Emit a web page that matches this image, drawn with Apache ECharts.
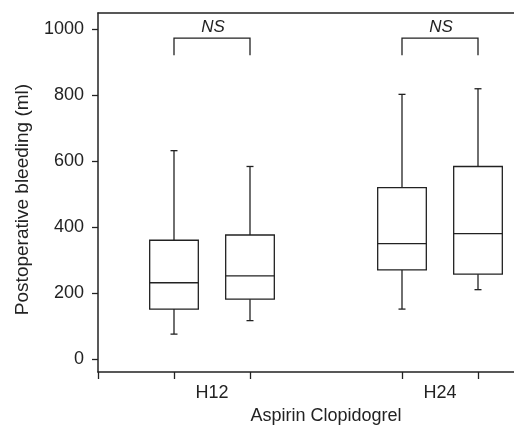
<!DOCTYPE html>
<html>
<head>
<meta charset="utf-8">
<script src="https://cdn.jsdelivr.net/npm/echarts@6/dist/echarts.min.js"></script>
<style>
  html, body { margin: 0; padding: 0; background: #fff; }
  #chart { width: 514px; height: 433px; }
</style>
</head>
<body>
<div id="chart"></div>
<script>
// Time points and treatment arms
const groups = ['H12', 'H24'];
const treatments = ['Aspirin', 'Clopidogrel'];

// Box statistics per time point: [min, Q1, median, Q3, max] in ml
const aspirin = [
  [75, 151, 231, 360, 632],
  [151, 270, 350, 520, 803]
];
const clopidogrel = [
  [116, 181, 252, 376, 584],
  [210, 257, 380, 584, 820]
];

// Significance brackets: [group index, label]
const significance = [
  [0, 'NS'],
  [1, 'NS']
];
const bracketTop = 974;
const bracketFoot = 922;

// y-axis tick values
const yTicks = [0, 200, 400, 600, 800, 1000];

const INK = '#222';
const FONT = 'Liberation Sans, Arial, Helvetica, sans-serif';

// Slot on the x scale: groups three slots apart, arms side by side
function slot(g, t) { return g * 3 + t; }

const boxData = [];
[aspirin, clopidogrel].forEach(function (arm, t) {
  arm.forEach(function (s, g) {
    boxData.push([slot(g, t)].concat(s));
  });
});

const bracketData = significance.map(function (b) {
  return [slot(b[0], 0), slot(b[0], 1), bracketTop, bracketFoot, b[1]];
});

const tickSlots = [-1];
groups.forEach(function (g, i) {
  treatments.forEach(function (t, j) { tickSlots.push(slot(i, j)); });
});
const labelSlots = groups.map(function (g, i) { return slot(i, 0) + 0.5; });

const chart = echarts.init(document.getElementById('chart'), null, { renderer: 'canvas' });

function renderBox(params, api) {
  const x = api.value(0);
  const halfW = 0.32;
  const lo = api.coord([x, api.value(1)]);
  const q1 = api.coord([x, api.value(2)]);
  const med = api.coord([x, api.value(3)]);
  const q3 = api.coord([x, api.value(4)]);
  const hi = api.coord([x, api.value(5)]);
  const left = api.coord([x - halfW, 0])[0];
  const right = api.coord([x + halfW, 0])[0];
  const cx = lo[0];
  const cap = 3.5;
  const style = { stroke: INK, lineWidth: 1.3, fill: null };
  return {
    type: 'group',
    children: [
      { type: 'rect', shape: { x: left, y: q3[1], width: right - left, height: q1[1] - q3[1] },
        style: { stroke: INK, lineWidth: 1.3, fill: '#fff' } },
      { type: 'line', shape: { x1: left, y1: med[1], x2: right, y2: med[1] }, style: style },
      { type: 'line', shape: { x1: cx, y1: q3[1], x2: cx, y2: hi[1] }, style: style },
      { type: 'line', shape: { x1: cx, y1: q1[1], x2: cx, y2: lo[1] }, style: style },
      { type: 'line', shape: { x1: cx - cap, y1: hi[1], x2: cx + cap, y2: hi[1] }, style: style },
      { type: 'line', shape: { x1: cx - cap, y1: lo[1], x2: cx + cap, y2: lo[1] }, style: style }
    ]
  };
}

function renderBracket(params, api) {
  const a = api.coord([api.value(0), api.value(2)]);
  const b = api.coord([api.value(1), api.value(2)]);
  const foot = api.coord([api.value(0), api.value(3)])[1];
  const style = { stroke: INK, lineWidth: 1.3, fill: null };
  return {
    type: 'group',
    children: [
      { type: 'polyline', shape: { points: [[a[0], foot], a, b, [b[0], foot]] }, style: style },
      { type: 'text', x: (a[0] + b[0]) / 2 + 1, y: a[1] - 2,
        style: { text: api.value(4), fill: INK, font: 'italic 17px ' + FONT,
                 align: 'center', verticalAlign: 'bottom' } }
    ]
  };
}

const option = {
  animation: false,
  backgroundColor: '#fff',
  textStyle: { fontFamily: FONT },
  // plot area runs past the right edge of the canvas; x = 2 sits mid-way
  grid: { left: 98, top: 13, width: 456, height: 359, containLabel: false, outerBoundsMode: 'none' },
  xAxis: [
    {
      type: 'value', min: -1, max: 5, position: 'bottom',
      name: treatments.join(' '), nameLocation: 'middle', nameGap: 33,
      nameTextStyle: { fontSize: 18, color: INK, fontFamily: FONT },
      axisLine: { onZero: false, lineStyle: { color: INK, width: 1.5 } },
      axisTick: { customValues: tickSlots, length: 7, lineStyle: { color: INK, width: 1.3 } },
      axisLabel: {
        customValues: labelSlots, fontSize: 18, color: INK, margin: 12, fontFamily: FONT,
        formatter: function (v) { return groups[Math.round((v - 0.5) / 3)] || ''; }
      },
      splitLine: { show: false }
    },
    {
      type: 'value', min: -1, max: 5, position: 'top',
      axisLine: { show: true, onZero: false, lineStyle: { color: INK, width: 1.5 } },
      axisTick: { show: false }, axisLabel: { show: false }, splitLine: { show: false }
    }
  ],
  yAxis: {
    type: 'value', min: -40, max: 1050,
    name: 'Postoperative bleeding (ml)', nameLocation: 'middle', nameGap: 66,
    nameTextStyle: { fontSize: 19, color: INK, fontFamily: FONT, padding: [0, 14, 0, 0] },
    axisLine: { show: true, onZero: false, lineStyle: { color: INK, width: 1.5 } },
    axisTick: { show: true, customValues: yTicks, length: 6, lineStyle: { color: INK, width: 1.3 } },
    axisLabel: { customValues: yTicks, fontSize: 18, color: INK, margin: 14, fontFamily: FONT,
                 formatter: function (v) { return String(v); } },
    splitLine: { show: false }
  },
  series: [
    {
      type: 'custom', name: 'box', xAxisIndex: 0, renderItem: renderBox,
      data: boxData, encode: { x: 0, y: [1, 2, 3, 4, 5] }, clip: false
    },
    {
      type: 'custom', name: 'significance', xAxisIndex: 0, renderItem: renderBracket,
      data: bracketData, encode: { x: [0, 1], y: [2, 3] }, clip: false
    }
  ]
};

chart.setOption(option);
</script>
</body>
</html>
